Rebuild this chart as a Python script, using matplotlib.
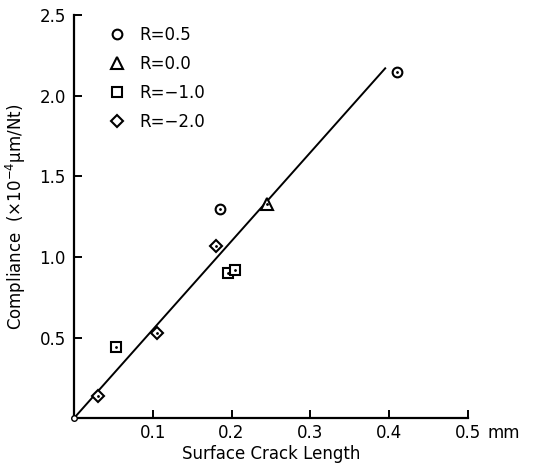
import matplotlib.pyplot as plt

# data (crack length mm, compliance x1e-4 um/Nt)
r05_x = [0.185, 0.41]
r05_y = [1.30, 2.15]
r00_x = [0.245]
r00_y = [1.33]
rm1_x = [0.053, 0.195, 0.205]
rm1_y = [0.44, 0.90, 0.92]
rm2_x = [0.03, 0.105, 0.18]
rm2_y = [0.14, 0.53, 1.07]
fit_x = [0.0, 0.395]
fit_y = [0.0, 2.17]

xticks = [0.1, 0.2, 0.3, 0.4, 0.5]
xticklabels = ['0.1', '0.2', '0.3', '0.4', '0.5']
yticks = [0.5, 1.0, 1.5, 2.0, 2.5]

plt.rcParams['font.family'] = ['DejaVu Sans']

fig = plt.figure(figsize=(5.36, 4.72), dpi=100)
ax = fig.add_axes([0.138, 0.114, 0.735, 0.854])

ax.plot(fit_x, fit_y, color='black', lw=1.4, zorder=2)

mk = dict(mfc='white', mec='black', mew=1.5, ls='none', zorder=3)
ax.plot(r05_x, r05_y, marker='o', ms=7, label='R=0.5', **mk)
ax.plot(r00_x, r00_y, marker='^', ms=9, label='R=0.0', **mk)
ax.plot(rm1_x, rm1_y, marker='s', ms=7, label='R=\u22121.0', **mk)
ax.plot(rm2_x, rm2_y, marker='D', ms=6.5, label='R=\u22122.0', **mk)
# center dots of the open symbols
for xs, ys in [(r05_x, r05_y), (r00_x, r00_y), (rm1_x, rm1_y), (rm2_x, rm2_y)]:
    ax.plot(xs, ys, 'k.', ms=2, zorder=4)
ax.plot([0], [0], marker='o', ms=4, mfc='white', mec='black', mew=1, clip_on=False, zorder=4)

ax.set_xlim(0, 0.5)
ax.set_ylim(0, 2.5)
ax.set_xticks(xticks)
ax.set_xticklabels(xticklabels)
ax.set_yticks(yticks)
ax.tick_params(direction='in', length=6, width=1.4, labelsize=12)
ax.tick_params(axis='x', pad=4)
ax.tick_params(axis='y', pad=6)
ax.spines['top'].set_visible(False)
ax.spines['right'].set_visible(False)
ax.spines['left'].set_linewidth(1.6)
ax.spines['bottom'].set_linewidth(1.6)

# unit after the last tick label
ax.annotate('mm', xy=(0.5, 0), xycoords='data', xytext=(14, -4), textcoords='offset points',
            ha='left', va='top', fontsize=12, annotation_clip=False)

ax.set_xlabel('Surface Crack Length', fontsize=12, labelpad=2)
ax.set_ylabel('Compliance  (\u00d710$^{-4}$\u03bcm/Nt)', fontsize=12, labelpad=8)

ax.legend(loc='upper left', bbox_to_anchor=(0.03, 1.01), frameon=False,
          fontsize=12, handletextpad=0.3, labelspacing=0.65, numpoints=1)

plt.savefig('out.png', dpi=100)
